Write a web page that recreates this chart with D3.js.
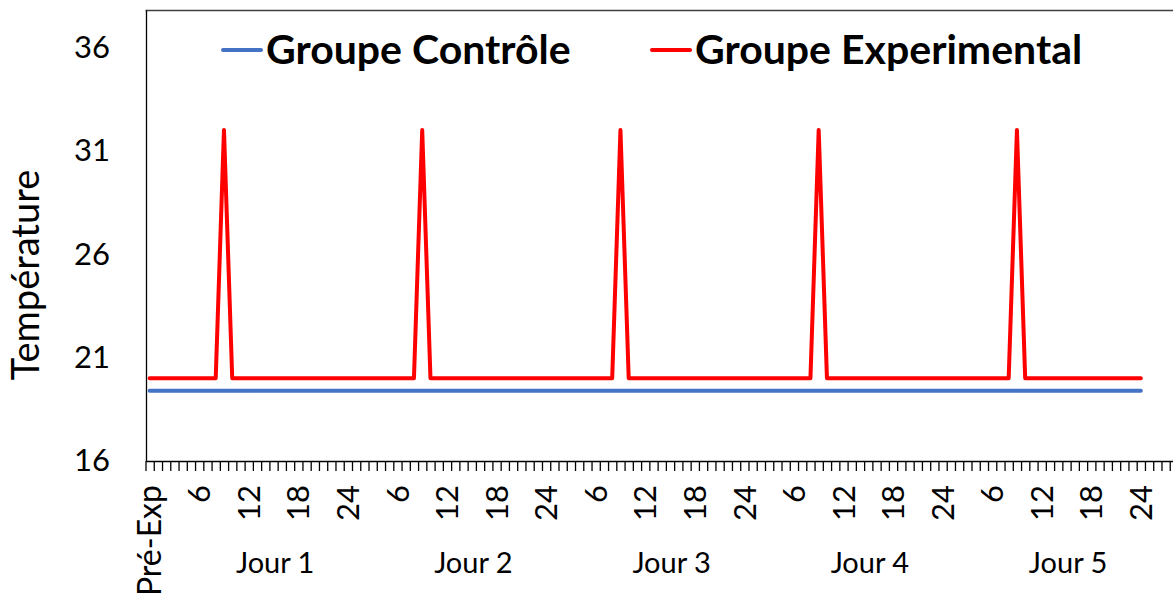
<!DOCTYPE html>
<html>
<head>
<meta charset="utf-8">
<script src="https://cdn.jsdelivr.net/npm/d3@7"></script>
<style>
  body { margin: 0; background: #fff; }
  svg { display: block; font-family: Lato, "Open Sans", sans-serif; }
</style>
</head>
<body>
<div id="plot"></div>
<script>
// Data
var days = ["Jour 1", "Jour 2", "Jour 3", "Jour 4", "Jour 5"];
var hours = [1, 2, 3, 4, 5, 6, 7, 8, 9, 10, 11, 12, 13, 14, 15, 16, 17, 18, 19, 20, 21, 22, 23, 24];
var shownHours = [6, 12, 18, 24];
var yTicks = [16, 21, 26, 31, 36];

var controle = [19.4,
  19.4, 19.4, 19.4, 19.4, 19.4, 19.4, 19.4, 19.4, 19.4, 19.4, 19.4, 19.4, 19.4, 19.4, 19.4, 19.4, 19.4, 19.4, 19.4, 19.4, 19.4, 19.4, 19.4, 19.4,
  19.4, 19.4, 19.4, 19.4, 19.4, 19.4, 19.4, 19.4, 19.4, 19.4, 19.4, 19.4, 19.4, 19.4, 19.4, 19.4, 19.4, 19.4, 19.4, 19.4, 19.4, 19.4, 19.4, 19.4,
  19.4, 19.4, 19.4, 19.4, 19.4, 19.4, 19.4, 19.4, 19.4, 19.4, 19.4, 19.4, 19.4, 19.4, 19.4, 19.4, 19.4, 19.4, 19.4, 19.4, 19.4, 19.4, 19.4, 19.4,
  19.4, 19.4, 19.4, 19.4, 19.4, 19.4, 19.4, 19.4, 19.4, 19.4, 19.4, 19.4, 19.4, 19.4, 19.4, 19.4, 19.4, 19.4, 19.4, 19.4, 19.4, 19.4, 19.4, 19.4,
  19.4, 19.4, 19.4, 19.4, 19.4, 19.4, 19.4, 19.4, 19.4, 19.4, 19.4, 19.4, 19.4, 19.4, 19.4, 19.4, 19.4, 19.4, 19.4, 19.4, 19.4, 19.4, 19.4, 19.4];

var experimental = [20,
  20, 20, 20, 20, 20, 20, 20, 20, 32, 20, 20, 20, 20, 20, 20, 20, 20, 20, 20, 20, 20, 20, 20, 20,
  20, 20, 20, 20, 20, 20, 20, 20, 32, 20, 20, 20, 20, 20, 20, 20, 20, 20, 20, 20, 20, 20, 20, 20,
  20, 20, 20, 20, 20, 20, 20, 20, 32, 20, 20, 20, 20, 20, 20, 20, 20, 20, 20, 20, 20, 20, 20, 20,
  20, 20, 20, 20, 20, 20, 20, 20, 32, 20, 20, 20, 20, 20, 20, 20, 20, 20, 20, 20, 20, 20, 20, 20,
  20, 20, 20, 20, 20, 20, 20, 20, 32, 20, 20, 20, 20, 20, 20, 20, 20, 20, 20, 20, 20, 20, 20, 20];

// category list: Pré-Exp then every hour of every day, plus a few empty slots at the end
var categories = ["Pré-Exp"];
days.forEach(function(d) {
    hours.forEach(function(h) { categories.push(shownHours.indexOf(h) >= 0 ? String(h) : ""); });
});
var emptySlots = 4;
var nCat = categories.length + emptySlots;

// Dimensions
var W = 1173, H = 599;
var plotLeft = 145.5, step = 8.26, plotTop = 10, plotBottom = 461;

var svg = d3.select("#plot")
    .append("svg")
        .attr("width", W)
        .attr("height", H);

var x = d3.scaleLinear()
    .domain([-0.5, nCat - 0.5])
    .range([plotLeft, plotLeft + nCat * step]);

var y = d3.scaleLinear()
    .domain([16, 37.8])
    .range([plotBottom, plotTop]);

// plot border (top)
svg.append("line")
    .attr("x1", plotLeft).attr("x2", x(nCat - 0.5))
    .attr("y1", plotTop + 0.5).attr("y2", plotTop + 0.5)
    .attr("stroke", "#404040")
    .attr("stroke-width", 1.3);

// X axis: tick marks between categories
var xAxis = d3.axisBottom(x)
    .tickValues(d3.range(nCat + 1).map(function(i) { return i - 0.5; }))
    .tickFormat("")
    .tickSizeOuter(0)
    .tickSizeInner(10);
var gx = svg.append("g")
    .attr("transform", "translate(0," + plotBottom + ")")
    .call(xAxis);
gx.select(".domain").attr("stroke", "#000").attr("stroke-width", 1.3);
gx.selectAll(".tick line").attr("stroke", "#000").attr("stroke-width", 1.3);

// hour labels (rotated)
svg.append("g")
    .selectAll("text")
    .data(categories)
    .enter().append("text")
        .attr("transform", function(d, i) { return "translate(" + x(i) + ",485) rotate(-90)"; })
        .attr("dy", "0.36em")
        .style("text-anchor", "end")
        .style("font-size", function(d, i) { return i === 0 ? "32px" : "31px"; })
        .text(function(d) { return d; });

// day labels
svg.append("g")
    .selectAll("text")
    .data(days)
    .enter().append("text")
        .attr("x", function(d, i) { return x(15.2 + i * hours.length); })
        .attr("y", 573)
        .style("text-anchor", "middle")
        .style("font-size", "29px")
        .text(function(d) { return d; });

// Y axis
var gy = svg.append("g")
    .attr("transform", "translate(" + (plotLeft + 0.5) + ",0)")
    .call(d3.axisLeft(y).tickValues(yTicks).tickSize(0).tickPadding(36));
gy.select(".domain").attr("stroke", "#000").attr("stroke-width", 1.3);
gy.selectAll("text")
    .style("font-size", "31px")
    .style("font-family", "Lato, sans-serif")
    .attr("fill", "#000");

svg.append("text")
    .attr("transform", "translate(39,275) rotate(-90)")
    .style("text-anchor", "middle")
    .style("font-size", "38px")
    .text("Température");

// Lines
var line = d3.line()
    .x(function(d, i) { return x(i); })
    .y(function(d) { return y(d); });

svg.append("path")
    .datum(controle)
    .attr("fill", "none")
    .attr("stroke", "#4472C4")
    .attr("stroke-width", 4)
    .attr("stroke-linecap", "round")
    .attr("stroke-linejoin", "round")
    .attr("d", line);

svg.append("path")
    .datum(experimental)
    .attr("fill", "none")
    .attr("stroke", "#FF0000")
    .attr("stroke-width", 4)
    .attr("stroke-linecap", "round")
    .attr("stroke-linejoin", "round")
    .attr("d", line);

// Legend
var legend = [
    {name: "Groupe Contrôle", color: "#4472C4", x: 223},
    {name: "Groupe Experimental", color: "#FF0000", x: 652}
];
var lg = svg.append("g").selectAll("g")
    .data(legend)
    .enter().append("g")
    .attr("transform", function(d) { return "translate(" + d.x + ",0)"; });
lg.append("line")
    .attr("x1", 0).attr("x2", 38)
    .attr("y1", 50).attr("y2", 50)
    .attr("stroke", function(d) { return d.color; })
    .attr("stroke-width", 4)
    .attr("stroke-linecap", "round");
lg.append("text")
    .attr("x", 43)
    .attr("y", 64)
    .style("font-size", "41px")
    .style("font-weight", "bold")
    .text(function(d) { return d.name; });
</script>
</body>
</html>
